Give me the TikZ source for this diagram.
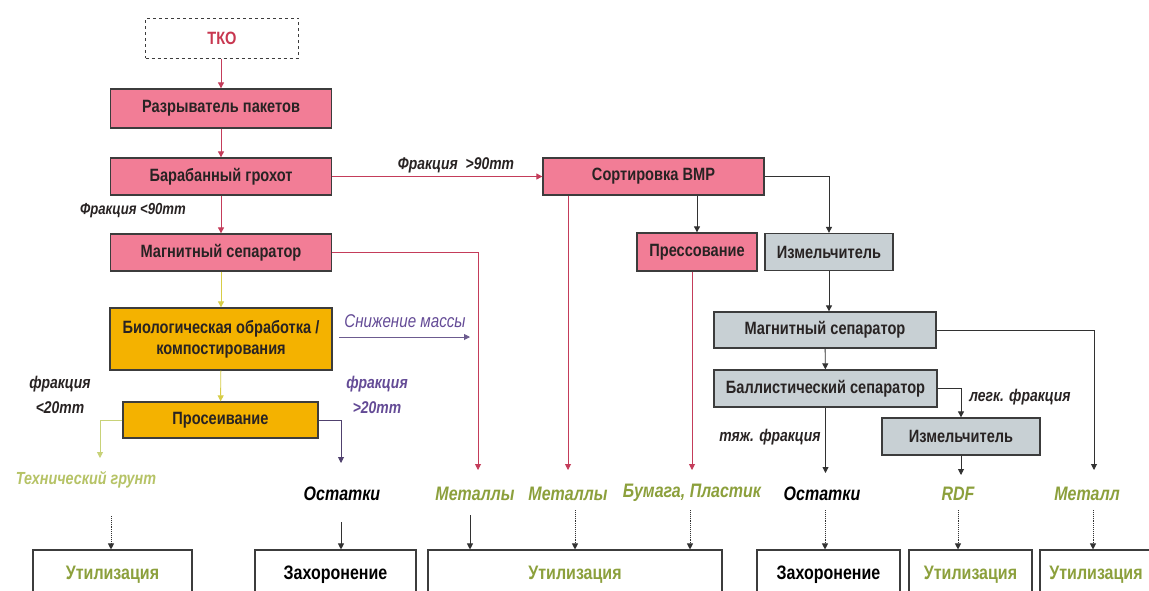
\documentclass[tikz,border=0pt]{standalone}
\usepackage{fontspec}
\setmainfont{Liberation Sans}
\newfontfamily\nar[FakeStretch=0.82]{Liberation Sans}
\usetikzlibrary{arrows.meta}
\definecolor{pinkfill}{RGB}{242,125,150}
\definecolor{orangefill}{RGB}{244,178,0}
\definecolor{grayfill}{RGB}{200,208,212}
\definecolor{boxline}{RGB}{60,60,60}
\definecolor{boxtext}{RGB}{40,35,35}
\definecolor{pinkline}{RGB}{196,60,90}
\definecolor{yline}{RGB}{215,205,70}
\definecolor{gline}{RGB}{200,210,120}
\definecolor{purp}{RGB}{100,75,150}
\definecolor{greentext}{RGB}{140,160,60}
\definecolor{darkline}{RGB}{50,50,50}
\definecolor{tkored}{RGB}{200,55,80}
\begin{document}
\begin{tikzpicture}[x=1pt,y=-1pt,
  box/.style={draw=boxline,line width=1.3pt,minimum height=37,inner sep=0pt,
    font=\nar\bfseries\fontsize{17.8}{21}\selectfont,text=boxtext,align=center},
  pinkbox/.style={box,fill=pinkfill},
  orbox/.style={box,fill=orangefill},
  grbox/.style={box,fill=grayfill},
  endbox/.style={draw=boxline,line width=1.1pt,fill=white,minimum height=50,inner sep=0pt,
    font=\nar\bfseries\fontsize{19.5}{22}\selectfont},
  lab/.style={font=\nar\bfseries\itshape\fontsize{17}{19}\selectfont,inner sep=0pt,text=boxtext},
  biglab/.style={font=\nar\bfseries\itshape\fontsize{19.5}{22}\selectfont,inner sep=0pt},
  arr/.style={line width=0.9pt,-{Triangle[length=6pt,width=6pt]}},
]
\useasboundingbox (0,0) rectangle (1149,590);
\clip (0,0) rectangle (1149,590);
\fill[white] (0,0) rectangle (1149,590);

% process boxes
\node[box,dashed,fill=white,minimum width=153,minimum height=40,text=tkored,line width=1pt] (tko) at (222,38) {ТКО};
\node[pinkbox,minimum width=221,minimum height=39] (razr) at (221,108.5) {Разрыватель пакетов};
\node[pinkbox,minimum width=221] (bar) at (221,176.5) {Барабанный грохот};
\node[pinkbox,minimum width=221] (mag1) at (221,252.5) {Магнитный сепаратор};
\node[orbox,minimum width=222,minimum height=62] (bio) at (221,339) {Биологическая обработка /\\компостирования};
\node[orbox,minimum width=195,minimum height=36] (pros) at (220.5,420) {Просеивание};
\node[pinkbox,minimum width=221] (sort) at (653.5,176.5) {Сортировка ВМР};
\node[pinkbox,minimum width=120,minimum height=38] (press) at (697,252) {Прессование};
\node[grbox,minimum width=128,minimum height=37] (izm1) at (829,252) {Измельчитель};
\node[grbox,minimum width=222,minimum height=36] (mag2) at (825,330) {Магнитный сепаратор};
\node[grbox,minimum width=223] (ball) at (825.5,388.5) {Баллистический сепаратор};
\node[grbox,minimum width=158] (izm2) at (961,436.5) {Измельчитель};

% end boxes
\node[endbox,minimum width=159,text=greentext] (util1) at (112.5,575) {Утилизация};
\node[endbox,minimum width=161,text=black] (zah1) at (335.5,575) {Захоронение};
\node[endbox,minimum width=294,text=greentext] (util2) at (575,575) {Утилизация};
\node[endbox,minimum width=143,text=black] (zah2) at (828.5,575) {Захоронение};
\node[endbox,minimum width=123,text=greentext] (util3) at (970.5,575) {Утилизация};
\node[endbox,minimum width=112,text=greentext] (util4) at (1096,575) {Утилизация};

% labels
\node[lab] (f90) at (456,165) {Фракция \ >90mm};
\node[lab,font=\nar\bfseries\itshape\fontsize{16}{18}\selectfont] (f90l) at (133,211) {Фракция <90mm};
\node[lab,text=purp,font=\nar\itshape\fontsize{18.5}{20}\selectfont] (mass) at (405,321) {Снижение массы};
\node[lab,align=center] (f20l) at (60,395) {фракция\\[6pt]<20mm};
\node[lab,align=center,text=purp] (f20r) at (377,395) {фракция\\[6pt]>20mm};
\node[lab,text=gline!70!greentext,font=\nar\bfseries\itshape\fontsize{17.5}{19}\selectfont] (grunt) at (86,480) {Технический грунт};
\node[biglab,text=black] (ost1) at (342,494) {Остатки};
\node[biglab,text=greentext] (met1) at (475,494) {Металлы};
\node[biglab,text=greentext] (met2) at (568,494) {Металлы};
\node[biglab,text=greentext] (bum) at (692,493) {Бумага, Пластик};
\node[biglab,text=black] (ost2) at (822,494) {Остатки};
\node[biglab,text=greentext] (rdf) at (958,494) {RDF};
\node[biglab,text=greentext] (metl) at (1087,494) {Металл};
\node[lab] (tyazh) at (770,437) {тяж. фракция};
\node[lab] (legk) at (1020,397) {легк. фракция};

% free ends
\coordinate (cmet1) at (478,470);
\coordinate (cmet2) at (568,470);
\coordinate (cbum) at (692,470);
\coordinate (cmetl) at (1094,470);
\coordinate (cost2) at (825.5,473);
\coordinate (crdf) at (961,475);
\coordinate (cgr) at (100,458);
\coordinate (cost1) at (341,463);
\coordinate (cmassA) at (339,337);
\coordinate (cmassB) at (470,337);
\coordinate (cu1) at (111,516);
\coordinate (cz1) at (341,522);
\coordinate (cu2a) at (470,515);
\coordinate (cu2b) at (575,510);
\coordinate (cu2c) at (690,510);
\coordinate (cz2) at (825,510);
\coordinate (cu3) at (958,510);
\coordinate (cu4) at (1093,510);

% connectors
\draw[arr,pinkline] (tko.south -| razr.north) -- (razr.north);
\draw[arr,pinkline] (razr) -- (bar);
\draw[arr,pinkline] (bar) -- (mag1);
\draw[arr,pinkline] (bar.east) -- (sort.west);
\draw[arr,yline] (mag1) -- (bio);
\draw[arr,yline] (bio) -- (pros);
\draw[arr,pinkline] (mag1.east) -| (cmet1);
\draw[arr,pinkline] (cmet2 |- sort.south) -- (cmet2);
\draw[arr,darkline] (press.north |- sort.south) -- (press.north);
\draw[arr,darkline] (sort.east) -| (izm1.north);
\draw[arr,pinkline] (cbum |- press.south) -- (cbum);
\draw[arr,darkline] (izm1.south) -- (izm1.south |- mag2.north);
\draw[arr,darkline] (mag2) -- (ball);
\draw[arr,darkline] (mag2.east) -| (cmetl);
\draw[arr,darkline] (ball.east) -| (izm2.north);
\draw[arr,darkline] (cost2 |- ball.south) -- (cost2);
\draw[arr,darkline] (izm2.south) -- (crdf);
\draw[arr,gline] (pros.west) -| (cgr);
\draw[arr,purp!60!darkline] (pros.east) -| (cost1);
\draw[arr,purp!70!gray] (cmassA) -- (cmassB);

% to end boxes
\draw[arr,darkline,densely dotted] (cu1) -- (cu1 |- util1.north);
\draw[arr,darkline] (cz1) -- (cz1 |- zah1.north);
\draw[arr,darkline] (cu2a) -- (cu2a |- util2.north);
\draw[arr,darkline,densely dotted] (cu2b) -- (cu2b |- util2.north);
\draw[arr,darkline,densely dotted] (cu2c) -- (cu2c |- util2.north);
\draw[arr,darkline,densely dotted] (cz2) -- (cz2 |- zah2.north);
\draw[arr,darkline,densely dotted] (cu3) -- (cu3 |- util3.north);
\draw[arr,darkline,densely dotted] (cu4) -- (cu4 |- util4.north);
\end{tikzpicture}
\end{document}
